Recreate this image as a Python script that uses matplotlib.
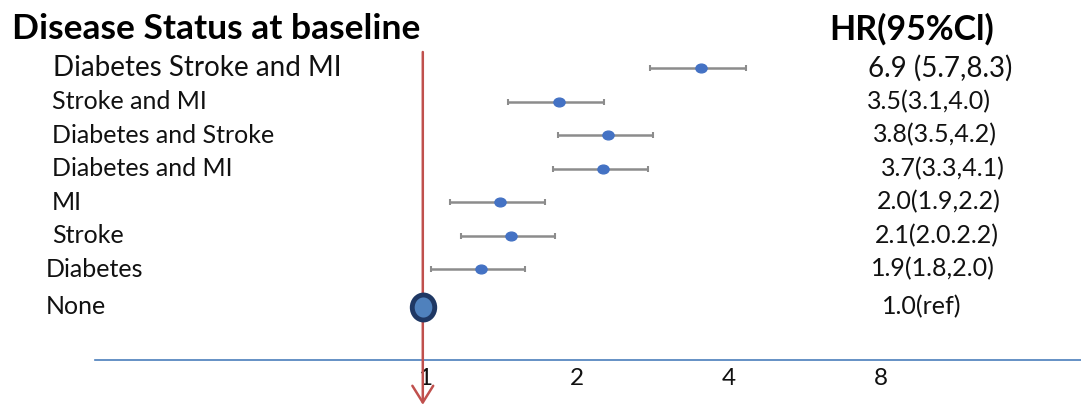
import matplotlib
matplotlib.use('Agg')
import matplotlib.pyplot as plt
import matplotlib.transforms as mtrans
from matplotlib.markers import MarkerStyle
import numpy as np

# ---------------- data ----------------
categories = ["Diabetes Stroke and MI", "Stroke and MI", "Diabetes and Stroke",
              "Diabetes and MI", "MI", "Stroke", "Diabetes", "None"]
# plotted positions (as drawn in the picture, log2 axis)
hr_plot = [3.52, 1.84, 2.30, 2.25, 1.41, 1.48, 1.29]
ci_low_plot = [2.79, 1.46, 1.83, 1.79, 1.12, 1.18, 1.03]
ci_high_plot = [4.32, 2.26, 2.83, 2.76, 1.73, 1.81, 1.58]
ref_hr = 1.0
hr_text = ["6.9 (5.7,8.3)", "3.5(3.1,4.0)", "3.8(3.5,4.2)", "3.7(3.3,4.1)",
           "2.0(1.9,2.2)", "2.1(2.0.2.2)", "1.9(1.8,2.0)", "1.0(ref)"]
xticks = [1, 2, 4, 8]
xtick_labels = ["1", "2", "4", "8"]
title_left = "Disease Status at baseline"
title_right = "HR(95%Cl)"

# ---------------- layout ----------------
W, H = 1081, 407
plt.rcParams['font.family'] = ['Lato', 'DejaVu Sans']
fig = plt.figure(figsize=(W / 100, H / 100), dpi=100)
ax = fig.add_axes([95 / W, (H - 360) / H, (W - 95) / W, 320 / H])
ax.set_xscale('log', base=2)
ax.set_xlim(2 ** (-330 / 152), 2 ** (656 / 152))
ax.set_ylim(8.716, -0.836)

rows = np.arange(len(categories), dtype=float)
rows[-1] += 0.13

for s in ['top', 'right', 'left']:
    ax.spines[s].set_visible(False)
ax.spines['bottom'].set_color('#4A7EBB')
ax.spines['bottom'].set_linewidth(1.2)
ax.set_yticks([])
ax.set_xticks(xticks)
ax.set_xticklabels(xtick_labels, fontsize=17.5, color='#111111')
ax.xaxis.set_minor_locator(matplotlib.ticker.NullLocator())
ax.tick_params(axis='x', length=0, pad=6)

# red reference arrow
ax.annotate('', xy=(ref_hr * 0.99, -0.14), xycoords=('data', 'axes fraction'),
            xytext=(ref_hr * 0.99, 0.9625), textcoords=('data', 'axes fraction'),
            arrowprops=dict(arrowstyle='->,head_length=1.2,head_width=0.75',
                            color='#C0504D', lw=1.8, mutation_scale=10,
                            shrinkA=0, shrinkB=0),
            annotation_clip=False)

# error bars
hr = np.array(hr_plot)
lo = np.array(ci_low_plot)
hi = np.array(ci_high_plot)
dot = MarkerStyle('o', transform=mtrans.Affine2D().scale(1.15, 0.9))
ax.errorbar(hr, rows[:7], xerr=[hr - lo, hi - hr], fmt='none',
            ecolor='#8C8C8C', elinewidth=1.8, capsize=2.2, capthick=1.5, zorder=2)
ax.plot(hr, rows[:7], linestyle='none', marker=dot, markersize=7,
        color='#4472C4', zorder=3)

# reference marker
big = MarkerStyle('o', transform=mtrans.Affine2D().scale(0.9, 1.0))
ax.plot([ref_hr * 0.99], [rows[-1]], linestyle='none', marker=big, markersize=18,
        markerfacecolor='#4F81BD', markeredgecolor='#1F3864', markeredgewidth=3.5,
        zorder=4)

# texts
blend = mtrans.blended_transform_factory(fig.transFigure, ax.transData)
left_x = [53, 52, 52, 52, 52, 52, 46, 46]
right_x = [868, 867, 873, 881, 877, 875, 871, 882]
for i, (cat, txt) in enumerate(zip(categories, hr_text)):
    fs = 20 if i == 0 else 18
    ax.text(left_x[i] / W, rows[i], cat, transform=blend, ha='left', va='center',
            fontsize=fs, color='#111111', clip_on=False)
    ax.text(right_x[i] / W, rows[i], txt, transform=blend, ha='left', va='center',
            fontsize=fs, color='#111111', clip_on=False)

fig.text(12 / W, 1 - 29 / H, title_left, ha='left', va='center', fontsize=25.5,
         fontweight='bold', color='#000000')
fig.text(829 / W, 1 - 29 / H, title_right, ha='left', va='center', fontsize=24.5,
         fontweight='bold', color='#000000')

fig.savefig('out.png', dpi=100)
